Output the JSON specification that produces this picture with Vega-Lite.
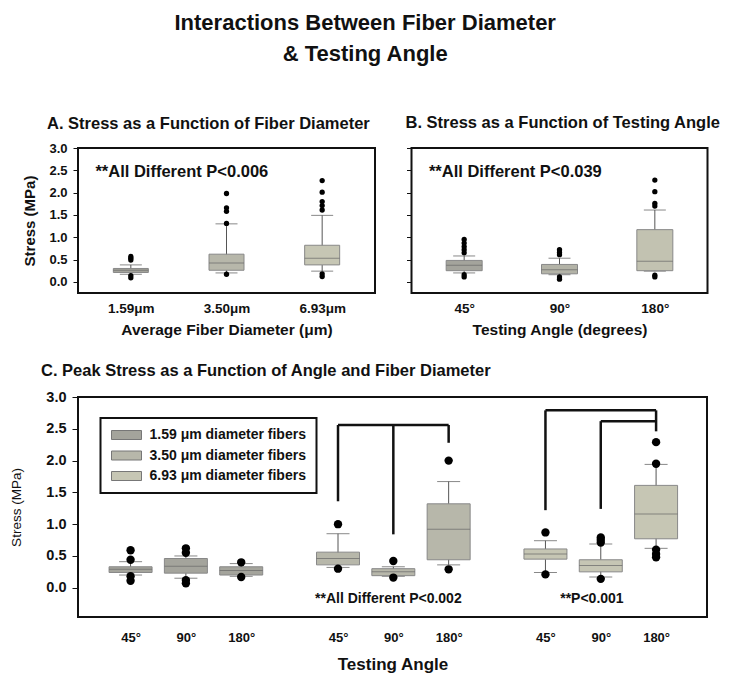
{
  "$schema": "https://vega.github.io/schema/vega-lite/v6.json",
  "background": "white",
  "padding": {"left": 8, "top": 12, "right": 4, "bottom": 4},
  "config": {
    "font": "Liberation Sans",
    "view": {"stroke": "#111", "strokeWidth": 2},
    "axis": {"grid": false, "domain": false, "tickColor": "#111", "labelColor": "#111", "titleColor": "#111", "labelOverlap": false},
    "title": {"color": "#111"},
    "legend": {"strokeWidth": 2}
  },
  "datasets": {
    "boxes": [
      {"panel": "A", "pos": 1, "diam": "1.59", "lo": 0.17, "q1": 0.21, "med": 0.26, "q3": 0.30, "hi": 0.38},
      {"panel": "A", "pos": 2, "diam": "3.50", "lo": 0.20, "q1": 0.26, "med": 0.42, "q3": 0.62, "hi": 1.30},
      {"panel": "A", "pos": 3, "diam": "6.93", "lo": 0.24, "q1": 0.38, "med": 0.53, "q3": 0.82, "hi": 1.49},
      {"panel": "B", "pos": 1, "angle": "45", "lo": 0.20, "q1": 0.25, "med": 0.37, "q3": 0.48, "hi": 0.58},
      {"panel": "B", "pos": 2, "angle": "90", "lo": 0.16, "q1": 0.18, "med": 0.27, "q3": 0.39, "hi": 0.53},
      {"panel": "B", "pos": 3, "angle": "180", "lo": 0.24, "q1": 0.25, "med": 0.46, "q3": 1.17, "hi": 1.61},
      {"panel": "C", "pos": 1, "diam": "1.59", "lo": 0.20, "q1": 0.24, "med": 0.29, "q3": 0.33, "hi": 0.41},
      {"panel": "C", "pos": 2, "diam": "1.59", "lo": 0.15, "q1": 0.23, "med": 0.34, "q3": 0.46, "hi": 0.50},
      {"panel": "C", "pos": 3, "diam": "1.59", "lo": 0.18, "q1": 0.20, "med": 0.27, "q3": 0.33, "hi": 0.38},
      {"panel": "C", "pos": 4.75, "diam": "3.50", "lo": 0.32, "q1": 0.36, "med": 0.46, "q3": 0.56, "hi": 0.85},
      {"panel": "C", "pos": 5.75, "diam": "3.50", "lo": 0.18, "q1": 0.19, "med": 0.25, "q3": 0.30, "hi": 0.33},
      {"panel": "C", "pos": 6.75, "diam": "3.50", "lo": 0.36, "q1": 0.44, "med": 0.92, "q3": 1.32, "hi": 1.67},
      {"panel": "C", "pos": 8.5, "diam": "6.93", "lo": 0.24, "q1": 0.45, "med": 0.53, "q3": 0.61, "hi": 0.74},
      {"panel": "C", "pos": 9.5, "diam": "6.93", "lo": 0.17, "q1": 0.25, "med": 0.35, "q3": 0.44, "hi": 0.69},
      {"panel": "C", "pos": 10.5, "diam": "6.93", "lo": 0.62, "q1": 0.77, "med": 1.16, "q3": 1.61, "hi": 1.94}
    ],
    "outliers": [
      {"panel": "A", "pos": 1, "stress": 0.57}, {"panel": "A", "pos": 1, "stress": 0.53}, {"panel": "A", "pos": 1, "stress": 0.49},
      {"panel": "A", "pos": 1, "stress": 0.14}, {"panel": "A", "pos": 1, "stress": 0.09},
      {"panel": "A", "pos": 2, "stress": 1.98}, {"panel": "A", "pos": 2, "stress": 1.66}, {"panel": "A", "pos": 2, "stress": 1.58},
      {"panel": "A", "pos": 2, "stress": 1.31}, {"panel": "A", "pos": 2, "stress": 0.17},
      {"panel": "A", "pos": 3, "stress": 2.27}, {"panel": "A", "pos": 3, "stress": 2.01}, {"panel": "A", "pos": 3, "stress": 1.80},
      {"panel": "A", "pos": 3, "stress": 1.71}, {"panel": "A", "pos": 3, "stress": 1.61}, {"panel": "A", "pos": 3, "stress": 0.18},
      {"panel": "A", "pos": 3, "stress": 0.12},
      {"panel": "B", "pos": 1, "stress": 0.95}, {"panel": "B", "pos": 1, "stress": 0.87}, {"panel": "B", "pos": 1, "stress": 0.79},
      {"panel": "B", "pos": 1, "stress": 0.72}, {"panel": "B", "pos": 1, "stress": 0.65}, {"panel": "B", "pos": 1, "stress": 0.16},
      {"panel": "B", "pos": 1, "stress": 0.11},
      {"panel": "B", "pos": 2, "stress": 0.72}, {"panel": "B", "pos": 2, "stress": 0.66}, {"panel": "B", "pos": 2, "stress": 0.61},
      {"panel": "B", "pos": 2, "stress": 0.11}, {"panel": "B", "pos": 2, "stress": 0.06},
      {"panel": "B", "pos": 3, "stress": 2.28}, {"panel": "B", "pos": 3, "stress": 2.02}, {"panel": "B", "pos": 3, "stress": 1.76},
      {"panel": "B", "pos": 3, "stress": 1.70}, {"panel": "B", "pos": 3, "stress": 0.15}, {"panel": "B", "pos": 3, "stress": 0.11},
      {"panel": "C", "pos": 1, "stress": 0.59}, {"panel": "C", "pos": 1, "stress": 0.44}, {"panel": "C", "pos": 1, "stress": 0.18},
      {"panel": "C", "pos": 1, "stress": 0.11},
      {"panel": "C", "pos": 2, "stress": 0.62}, {"panel": "C", "pos": 2, "stress": 0.55}, {"panel": "C", "pos": 2, "stress": 0.12},
      {"panel": "C", "pos": 2, "stress": 0.07},
      {"panel": "C", "pos": 3, "stress": 0.40}, {"panel": "C", "pos": 3, "stress": 0.17},
      {"panel": "C", "pos": 4.75, "stress": 1.0}, {"panel": "C", "pos": 4.75, "stress": 0.30},
      {"panel": "C", "pos": 5.75, "stress": 0.42}, {"panel": "C", "pos": 5.75, "stress": 0.16},
      {"panel": "C", "pos": 6.75, "stress": 2.0}, {"panel": "C", "pos": 6.75, "stress": 0.29},
      {"panel": "C", "pos": 8.5, "stress": 0.87}, {"panel": "C", "pos": 8.5, "stress": 0.21},
      {"panel": "C", "pos": 9.5, "stress": 0.79}, {"panel": "C", "pos": 9.5, "stress": 0.75}, {"panel": "C", "pos": 9.5, "stress": 0.71},
      {"panel": "C", "pos": 9.5, "stress": 0.14},
      {"panel": "C", "pos": 10.5, "stress": 2.29}, {"panel": "C", "pos": 10.5, "stress": 1.95}, {"panel": "C", "pos": 10.5, "stress": 0.60},
      {"panel": "C", "pos": 10.5, "stress": 0.53}, {"panel": "C", "pos": 10.5, "stress": 0.48}
    ],
    "notes": [
      {"panel": "A", "x": 0.63, "y": 2.47, "label": "**All Different P<0.006"},
      {"panel": "B", "x": 0.63, "y": 2.47, "label": "**All Different P<0.039"},
      {"panel": "C", "x": 5.66, "y": -0.17, "label": "**All Different P<0.002"},
      {"panel": "C", "x": 9.34, "y": -0.17, "label": "**P<0.001"}
    ],
    "brackets": [
      {"x": 4.75, "x2": 6.75, "y": 2.56, "y2": 2.56},
      {"x": 4.75, "x2": 4.75, "y": 2.56, "y2": 1.36},
      {"x": 5.75, "x2": 5.75, "y": 2.56, "y2": 0.84},
      {"x": 6.75, "x2": 6.75, "y": 2.56, "y2": 2.28},
      {"x": 8.5, "x2": 10.5, "y": 2.79, "y2": 2.79},
      {"x": 8.5, "x2": 8.5, "y": 2.79, "y2": 1.22},
      {"x": 9.5, "x2": 10.5, "y": 2.62, "y2": 2.62},
      {"x": 9.5, "x2": 9.5, "y": 2.62, "y2": 1.24},
      {"x": 10.5, "x2": 10.5, "y": 2.79, "y2": 2.46}
    ]
  },
  "title": {"text": ["Interactions Between Fiber Diameter", "& Testing Angle"], "fontSize": 22, "fontWeight": "bold", "lineHeight": 31, "anchor": "middle", "offset": 48},
  "spacing": 22,
  "resolve": {"scale": {"fill": "independent"}, "legend": {"fill": "independent"}},
  "vconcat": [
    {
      "spacing": 28.5,
      "resolve": {"scale": {"fill": "independent"}, "legend": {"fill": "independent"}},
      "hconcat": [
        {
          "width": 297, "height": 145,
          "title": {"text": "A. Stress as a Function of Fiber Diameter", "anchor": "start", "frame": "group", "dx": -31, "fontSize": 16.5, "fontWeight": "bold", "offset": 10},
          "layer": [
            {
              "data": {"name": "boxes"}, "transform": [{"filter": "datum.panel === 'A'"}],
              "mark": {"type": "rule", "color": "#555", "strokeWidth": 1},
              "encoding": {
                "x": {"field": "pos", "type": "quantitative", "scale": {"domain": [0.5, 3.5], "nice": false, "zero": false},
                  "axis": {"values": [1, 2, 3], "labelExpr": "['1.59μm','3.50μm','6.93μm'][datum.value-1]", "ticks": false, "labelPadding": 8, "labelFontSize": 13.5, "labelFontWeight": "bold", "title": "Average Fiber Diameter (μm)", "titleFontSize": 15.5, "titleFontWeight": "bold", "titlePadding": 8}},
                "y": {"field": "lo", "type": "quantitative", "scale": {"domain": [-0.25, 3], "nice": false, "zero": false},
                  "axis": {"values": [0, 0.5, 1, 1.5, 2, 2.5, 3], "tickCount": 7, "format": ".1f", "tickSize": 5, "labelPadding": 6, "labelFontSize": 13, "labelFontWeight": "bold", "title": "Stress (MPa)", "titleFontSize": 15, "titleFontWeight": "bold", "titlePadding": 11.5}},
                "y2": {"field": "hi"}
              }
            },
            {
              "data": {"name": "boxes"}, "transform": [{"filter": "datum.panel === 'A'"}],
              "mark": {"type": "tick", "orient": "horizontal", "color": "#555", "size": 22, "thickness": 1},
              "encoding": {"x": {"field": "pos", "type": "quantitative"},
                "y": {"field": "lo", "type": "quantitative", "scale": {"domain": [-0.25, 3], "nice": false, "zero": false},
                  "axis": {"values": [0, 0.5, 1, 1.5, 2, 2.5, 3], "tickCount": 7, "format": ".1f", "tickSize": 5, "labelPadding": 6, "labelFontSize": 13, "labelFontWeight": "bold", "title": "Stress (MPa)", "titleFontSize": 15, "titleFontWeight": "bold", "titlePadding": 11.5}}}
            },
            {
              "data": {"name": "boxes"}, "transform": [{"filter": "datum.panel === 'A'"}],
              "mark": {"type": "tick", "orient": "horizontal", "color": "#555", "size": 22, "thickness": 1},
              "encoding": {"x": {"field": "pos", "type": "quantitative"},
                "y": {"field": "hi", "type": "quantitative", "scale": {"domain": [-0.25, 3], "nice": false, "zero": false},
                  "axis": {"values": [0, 0.5, 1, 1.5, 2, 2.5, 3], "tickCount": 7, "format": ".1f", "tickSize": 5, "labelPadding": 6, "labelFontSize": 13, "labelFontWeight": "bold", "title": "Stress (MPa)", "titleFontSize": 15, "titleFontWeight": "bold", "titlePadding": 11.5}}}
            },
            {
              "data": {"name": "boxes"}, "transform": [{"filter": "datum.panel === 'A'"}],
              "mark": {"type": "bar", "size": 35, "stroke": "#888", "strokeWidth": 1},
              "encoding": {
                "x": {"field": "pos", "type": "quantitative"},
                "y": {"field": "q1", "type": "quantitative", "scale": {"domain": [-0.25, 3], "nice": false, "zero": false},
                  "axis": {"values": [0, 0.5, 1, 1.5, 2, 2.5, 3], "tickCount": 7, "format": ".1f", "tickSize": 5, "labelPadding": 6, "labelFontSize": 13, "labelFontWeight": "bold", "title": "Stress (MPa)", "titleFontSize": 15, "titleFontWeight": "bold", "titlePadding": 11.5}},
                "y2": {"field": "q3"},
                "fill": {"field": "diam", "type": "nominal", "scale": {"domain": ["1.59", "3.50", "6.93"], "range": ["#a4a49c", "#b7b7aa", "#c6c6b4"]}, "legend": null}
              }
            },
            {
              "data": {"name": "boxes"}, "transform": [{"filter": "datum.panel === 'A'"}],
              "mark": {"type": "tick", "orient": "horizontal", "color": "#666", "size": 35, "thickness": 1},
              "encoding": {"x": {"field": "pos", "type": "quantitative"},
                "y": {"field": "med", "type": "quantitative", "scale": {"domain": [-0.25, 3], "nice": false, "zero": false},
                  "axis": {"values": [0, 0.5, 1, 1.5, 2, 2.5, 3], "tickCount": 7, "format": ".1f", "tickSize": 5, "labelPadding": 6, "labelFontSize": 13, "labelFontWeight": "bold", "title": "Stress (MPa)", "titleFontSize": 15, "titleFontWeight": "bold", "titlePadding": 11.5}}}
            },
            {
              "data": {"name": "outliers"}, "transform": [{"filter": "datum.panel === 'A'"}],
              "mark": {"type": "circle", "size": 28, "color": "#000", "opacity": 1},
              "encoding": {"x": {"field": "pos", "type": "quantitative"},
                "y": {"field": "stress", "type": "quantitative", "scale": {"domain": [-0.25, 3], "nice": false, "zero": false},
                  "axis": {"values": [0, 0.5, 1, 1.5, 2, 2.5, 3], "tickCount": 7, "format": ".1f", "tickSize": 5, "labelPadding": 6, "labelFontSize": 13, "labelFontWeight": "bold", "title": "Stress (MPa)", "titleFontSize": 15, "titleFontWeight": "bold", "titlePadding": 11.5}}}
            },
            {
              "data": {"name": "notes"}, "transform": [{"filter": "datum.panel === 'A'"}],
              "mark": {"type": "text", "align": "left", "baseline": "middle", "fontSize": 16.5, "fontWeight": "bold", "color": "#111"},
              "encoding": {"x": {"field": "x", "type": "quantitative"},
                "y": {"field": "y", "type": "quantitative", "scale": {"domain": [-0.25, 3], "nice": false, "zero": false},
                  "axis": {"values": [0, 0.5, 1, 1.5, 2, 2.5, 3], "tickCount": 7, "format": ".1f", "tickSize": 5, "labelPadding": 6, "labelFontSize": 13, "labelFontWeight": "bold", "title": "Stress (MPa)", "titleFontSize": 15, "titleFontWeight": "bold", "titlePadding": 11.5}},
                "text": {"field": "label"}}
            }
          ]
        },
        {
          "width": 296, "height": 145,
          "title": {"text": "B. Stress as a Function of Testing Angle", "anchor": "start", "frame": "group", "dx": -6, "fontSize": 16.5, "fontWeight": "bold", "offset": 16},
          "layer": [
            {
              "data": {"name": "boxes"}, "transform": [{"filter": "datum.panel === 'B'"}],
              "mark": {"type": "rule", "color": "#555", "strokeWidth": 1},
              "encoding": {
                "x": {"field": "pos", "type": "quantitative", "scale": {"domain": [0.5, 3.5], "nice": false, "zero": false},
                  "axis": {"values": [1, 2, 3], "labelExpr": "['45°','90°','180°'][datum.value-1]", "ticks": false, "labelPadding": 8, "labelFontSize": 13.5, "labelFontWeight": "bold", "title": "Testing Angle (degrees)", "titleFontSize": 15.5, "titleFontWeight": "bold", "titlePadding": 8}},
                "y": {"field": "lo", "type": "quantitative", "scale": {"domain": [-0.25, 3], "nice": false, "zero": false},
                  "axis": {"values": [0, 0.5, 1, 1.5, 2, 2.5, 3], "tickCount": 7, "tickSize": 5, "labels": false, "title": null}},
                "y2": {"field": "hi"}
              }
            },
            {
              "data": {"name": "boxes"}, "transform": [{"filter": "datum.panel === 'B'"}],
              "mark": {"type": "tick", "orient": "horizontal", "color": "#555", "size": 22, "thickness": 1},
              "encoding": {"x": {"field": "pos", "type": "quantitative"},
                "y": {"field": "lo", "type": "quantitative", "scale": {"domain": [-0.25, 3], "nice": false, "zero": false},
                  "axis": {"values": [0, 0.5, 1, 1.5, 2, 2.5, 3], "tickCount": 7, "tickSize": 5, "labels": false, "title": null}}}
            },
            {
              "data": {"name": "boxes"}, "transform": [{"filter": "datum.panel === 'B'"}],
              "mark": {"type": "tick", "orient": "horizontal", "color": "#555", "size": 22, "thickness": 1},
              "encoding": {"x": {"field": "pos", "type": "quantitative"},
                "y": {"field": "hi", "type": "quantitative", "scale": {"domain": [-0.25, 3], "nice": false, "zero": false},
                  "axis": {"values": [0, 0.5, 1, 1.5, 2, 2.5, 3], "tickCount": 7, "tickSize": 5, "labels": false, "title": null}}}
            },
            {
              "data": {"name": "boxes"}, "transform": [{"filter": "datum.panel === 'B'"}],
              "mark": {"type": "bar", "size": 36, "stroke": "#888", "strokeWidth": 1},
              "encoding": {
                "x": {"field": "pos", "type": "quantitative"},
                "y": {"field": "q1", "type": "quantitative", "scale": {"domain": [-0.25, 3], "nice": false, "zero": false},
                  "axis": {"values": [0, 0.5, 1, 1.5, 2, 2.5, 3], "tickCount": 7, "tickSize": 5, "labels": false, "title": null}},
                "y2": {"field": "q3"},
                "fill": {"field": "angle", "type": "nominal", "scale": {"domain": ["45", "90", "180"], "range": ["#a4a49c", "#b3b3a7", "#c2c2b1"]}, "legend": null}
              }
            },
            {
              "data": {"name": "boxes"}, "transform": [{"filter": "datum.panel === 'B'"}],
              "mark": {"type": "tick", "orient": "horizontal", "color": "#666", "size": 36, "thickness": 1},
              "encoding": {"x": {"field": "pos", "type": "quantitative"},
                "y": {"field": "med", "type": "quantitative", "scale": {"domain": [-0.25, 3], "nice": false, "zero": false},
                  "axis": {"values": [0, 0.5, 1, 1.5, 2, 2.5, 3], "tickCount": 7, "tickSize": 5, "labels": false, "title": null}}}
            },
            {
              "data": {"name": "outliers"}, "transform": [{"filter": "datum.panel === 'B'"}],
              "mark": {"type": "circle", "size": 28, "color": "#000", "opacity": 1},
              "encoding": {"x": {"field": "pos", "type": "quantitative"},
                "y": {"field": "stress", "type": "quantitative", "scale": {"domain": [-0.25, 3], "nice": false, "zero": false},
                  "axis": {"values": [0, 0.5, 1, 1.5, 2, 2.5, 3], "tickCount": 7, "tickSize": 5, "labels": false, "title": null}}}
            },
            {
              "data": {"name": "notes"}, "transform": [{"filter": "datum.panel === 'B'"}],
              "mark": {"type": "text", "align": "left", "baseline": "middle", "fontSize": 16.5, "fontWeight": "bold", "color": "#111"},
              "encoding": {"x": {"field": "x", "type": "quantitative"},
                "y": {"field": "y", "type": "quantitative", "scale": {"domain": [-0.25, 3], "nice": false, "zero": false},
                  "axis": {"values": [0, 0.5, 1, 1.5, 2, 2.5, 3], "tickCount": 7, "tickSize": 5, "labels": false, "title": null}},
                "text": {"field": "label"}}
            }
          ]
        }
      ]
    },
    {
      "width": 629, "height": 220,
      "title": {"text": "C. Peak Stress as a Function of Angle and Fiber Diameter", "anchor": "start", "frame": "group", "dx": -37, "fontSize": 16.5, "fontWeight": "bold", "offset": 10},
      "layer": [
        {
          "data": {"name": "boxes"}, "transform": [{"filter": "datum.panel === 'C'"}],
          "mark": {"type": "rule", "color": "#555", "strokeWidth": 1},
          "encoding": {
            "x": {"field": "pos", "type": "quantitative", "scale": {"domain": [0.14, 11.33], "nice": false, "zero": false},
              "axis": {"values": [1, 2, 3, 4.75, 5.75, 6.75, 8.5, 9.5, 10.5], "labelExpr": "['45°','90°','180°'][round((datum.value-1)%3.75)]", "ticks": false, "labelPadding": 14, "labelFontSize": 13, "labelFontWeight": "bold", "title": "Testing Angle", "titleFontSize": 17, "titleFontWeight": "bold", "titlePadding": 12}},
            "y": {"field": "lo", "type": "quantitative", "scale": {"domain": [-0.46, 3], "nice": false, "zero": false},
              "axis": {"values": [0, 0.5, 1, 1.5, 2, 2.5, 3], "tickCount": 7, "format": ".1f", "tickSize": 6, "labelPadding": 6, "labelFontSize": 14.5, "labelFontWeight": "bold", "title": "Stress (MPa)", "titleFontSize": 13.5, "titleFontWeight": "normal", "titlePadding": 22}},
            "y2": {"field": "hi"}
          }
        },
        {
          "data": {"name": "boxes"}, "transform": [{"filter": "datum.panel === 'C'"}],
          "mark": {"type": "tick", "orient": "horizontal", "color": "#555", "size": 23, "thickness": 1},
          "encoding": {"x": {"field": "pos", "type": "quantitative"},
            "y": {"field": "lo", "type": "quantitative", "scale": {"domain": [-0.46, 3], "nice": false, "zero": false},
              "axis": {"values": [0, 0.5, 1, 1.5, 2, 2.5, 3], "tickCount": 7, "format": ".1f", "tickSize": 6, "labelPadding": 6, "labelFontSize": 14.5, "labelFontWeight": "bold", "title": "Stress (MPa)", "titleFontSize": 13.5, "titleFontWeight": "normal", "titlePadding": 22}}}
        },
        {
          "data": {"name": "boxes"}, "transform": [{"filter": "datum.panel === 'C'"}],
          "mark": {"type": "tick", "orient": "horizontal", "color": "#555", "size": 23, "thickness": 1},
          "encoding": {"x": {"field": "pos", "type": "quantitative"},
            "y": {"field": "hi", "type": "quantitative", "scale": {"domain": [-0.46, 3], "nice": false, "zero": false},
              "axis": {"values": [0, 0.5, 1, 1.5, 2, 2.5, 3], "tickCount": 7, "format": ".1f", "tickSize": 6, "labelPadding": 6, "labelFontSize": 14.5, "labelFontWeight": "bold", "title": "Stress (MPa)", "titleFontSize": 13.5, "titleFontWeight": "normal", "titlePadding": 22}}}
        },
        {
          "data": {"name": "boxes"}, "transform": [{"filter": "datum.panel === 'C'"}],
          "mark": {"type": "bar", "size": 43, "stroke": "#888", "strokeWidth": 1},
          "encoding": {
            "x": {"field": "pos", "type": "quantitative"},
            "y": {"field": "q1", "type": "quantitative", "scale": {"domain": [-0.46, 3], "nice": false, "zero": false},
              "axis": {"values": [0, 0.5, 1, 1.5, 2, 2.5, 3], "tickCount": 7, "format": ".1f", "tickSize": 6, "labelPadding": 6, "labelFontSize": 14.5, "labelFontWeight": "bold", "title": "Stress (MPa)", "titleFontSize": 13.5, "titleFontWeight": "normal", "titlePadding": 22}},
            "y2": {"field": "q3"},
            "fill": {"field": "diam", "type": "nominal", "scale": {"domain": ["1.59", "3.50", "6.93"], "range": ["#a4a49c", "#b7b7aa", "#c6c6b4"]},
              "legend": {"orient": "none", "legendX": 22.5, "legendY": 21, "title": null, "labelExpr": "datum.label + ' μm diameter fibers'",
                "symbolType": "M-2.5,-0.75H2.5V0.75H-2.5Z", "symbolSize": 144, "symbolStrokeColor": "#777", "symbolStrokeWidth": 1,
                "symbolOffset": 9, "labelOffset": 16, "labelFontSize": 14, "labelFontWeight": "bold", "labelColor": "#111",
                "rowPadding": 6.5, "padding": 10, "strokeColor": "#111", "fillColor": "white"}}
          }
        },
        {
          "data": {"name": "boxes"}, "transform": [{"filter": "datum.panel === 'C'"}],
          "mark": {"type": "tick", "orient": "horizontal", "color": "#666", "size": 43, "thickness": 1},
          "encoding": {"x": {"field": "pos", "type": "quantitative"},
            "y": {"field": "med", "type": "quantitative", "scale": {"domain": [-0.46, 3], "nice": false, "zero": false},
              "axis": {"values": [0, 0.5, 1, 1.5, 2, 2.5, 3], "tickCount": 7, "format": ".1f", "tickSize": 6, "labelPadding": 6, "labelFontSize": 14.5, "labelFontWeight": "bold", "title": "Stress (MPa)", "titleFontSize": 13.5, "titleFontWeight": "normal", "titlePadding": 22}}}
        },
        {
          "data": {"name": "outliers"}, "transform": [{"filter": "datum.panel === 'C'"}],
          "mark": {"type": "circle", "size": 70, "color": "#000", "opacity": 1},
          "encoding": {"x": {"field": "pos", "type": "quantitative"},
            "y": {"field": "stress", "type": "quantitative", "scale": {"domain": [-0.46, 3], "nice": false, "zero": false},
              "axis": {"values": [0, 0.5, 1, 1.5, 2, 2.5, 3], "tickCount": 7, "format": ".1f", "tickSize": 6, "labelPadding": 6, "labelFontSize": 14.5, "labelFontWeight": "bold", "title": "Stress (MPa)", "titleFontSize": 13.5, "titleFontWeight": "normal", "titlePadding": 22}}}
        },
        {
          "data": {"name": "brackets"},
          "mark": {"type": "rule", "color": "#111", "strokeWidth": 2.5},
          "encoding": {"x": {"field": "x", "type": "quantitative"}, "x2": {"field": "x2"},
            "y": {"field": "y", "type": "quantitative", "scale": {"domain": [-0.46, 3], "nice": false, "zero": false},
              "axis": {"values": [0, 0.5, 1, 1.5, 2, 2.5, 3], "tickCount": 7, "format": ".1f", "tickSize": 6, "labelPadding": 6, "labelFontSize": 14.5, "labelFontWeight": "bold", "title": "Stress (MPa)", "titleFontSize": 13.5, "titleFontWeight": "normal", "titlePadding": 22}},
            "y2": {"field": "y2"}}
        },
        {
          "data": {"name": "notes"}, "transform": [{"filter": "datum.panel === 'C'"}],
          "mark": {"type": "text", "align": "center", "baseline": "middle", "fontSize": 14, "fontWeight": "bold", "color": "#111"},
          "encoding": {"x": {"field": "x", "type": "quantitative"},
            "y": {"field": "y", "type": "quantitative", "scale": {"domain": [-0.46, 3], "nice": false, "zero": false},
              "axis": {"values": [0, 0.5, 1, 1.5, 2, 2.5, 3], "tickCount": 7, "format": ".1f", "tickSize": 6, "labelPadding": 6, "labelFontSize": 14.5, "labelFontWeight": "bold", "title": "Stress (MPa)", "titleFontSize": 13.5, "titleFontWeight": "normal", "titlePadding": 22}},
            "text": {"field": "label"}}
        }
      ]
    }
  ]
}
